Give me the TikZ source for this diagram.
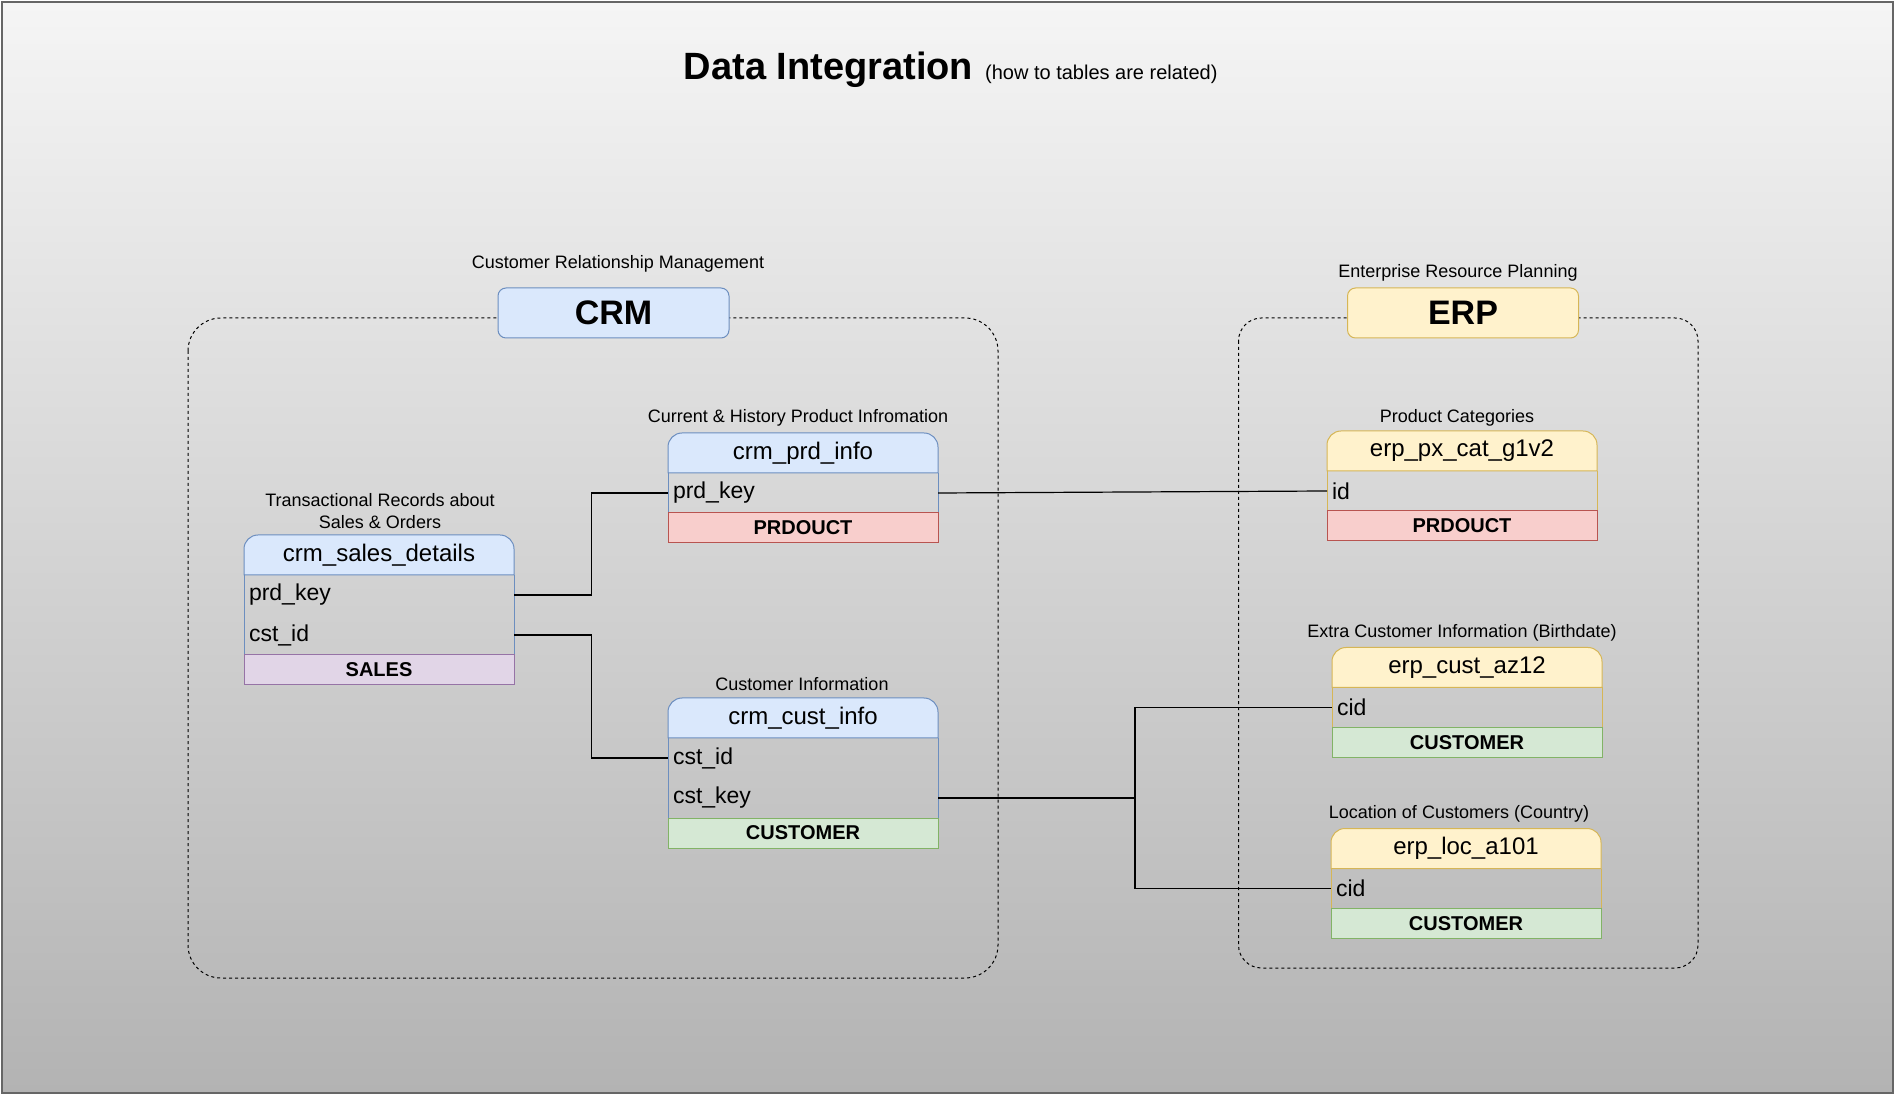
\documentclass[tikz,border=0pt]{standalone}
\usepackage{fontspec}
\setmainfont{Liberation Sans}
\usetikzlibrary{backgrounds}

\definecolor{crmfill}{HTML}{DAE8FC}
\definecolor{crmdraw}{HTML}{6C8EBF}
\definecolor{erpfill}{HTML}{FFF2CC}
\definecolor{erpdraw}{HTML}{D6B656}
\definecolor{redfill}{HTML}{F8CECC}
\definecolor{reddraw}{HTML}{B85450}
\definecolor{grnfill}{HTML}{D5E8D4}
\definecolor{grndraw}{HTML}{82B366}
\definecolor{vltfill}{HTML}{E1D5E7}
\definecolor{vltdraw}{HTML}{9673A6}
\definecolor{bgtop}{HTML}{F5F5F5}
\definecolor{bgbot}{HTML}{B3B3B3}
\definecolor{bordergray}{HTML}{666666}

\tikzset{
  lbl/.style={font=\fontsize{9}{10.85}\selectfont, align=center, inner sep=0pt},
  sysbox/.style={rounded corners=4pt, line width=0.5pt, minimum width=115.5pt, minimum height=25pt, inner sep=0pt, font=\fontsize{17}{20}\selectfont\bfseries},
  crmbox/.style={sysbox, fill=crmfill, draw=crmdraw},
  erpbox/.style={sysbox, fill=erpfill, draw=erpdraw},
  grp/.style={draw=black, line width=0.5pt, dash pattern=on 1.5pt off 1.5pt},
  tblhd/.style={minimum width=135pt, minimum height=20pt, inner sep=0pt, outer sep=0pt, font=\fontsize{12}{14}\selectfont},
  fld/.style={anchor=north, text width=130pt, inner xsep=2.5pt, inner ysep=0pt, outer sep=0pt, minimum height=20pt, align=left, font=\fontsize{11.5}{13}\selectfont},
  foot/.style={anchor=north, minimum width=135pt, minimum height=15pt, inner sep=0pt, outer sep=0pt, line width=0.5pt, font=\fontsize{10}{12}\selectfont\bfseries},
  redfoot/.style={foot, fill=redfill, draw=reddraw},
  grnfoot/.style={foot, fill=grnfill, draw=grndraw},
  vltfoot/.style={foot, fill=vltfill, draw=vltdraw},
  crmtop/.style={fill=crmfill, draw=crmdraw, line width=0.5pt},
  erptop/.style={fill=erpfill, draw=erpdraw, line width=0.5pt},
  link/.style={draw=black, line width=0.6pt}
}

\begin{document}
\begin{tikzpicture}[x=0.5pt,y=-0.5pt]
\useasboundingbox (0,0) rectangle (1895,1095);

\node[anchor=base west, inner sep=0pt] (title) at (683.5,80) {\fontsize{19}{23}\selectfont\bfseries Data Integration\hspace{6pt}\fontsize{10}{12}\selectfont\mdseries (how to tables are related)};

% source systems
\draw[grp, rounded corners=16.5pt] (188,318) rectangle (998,978);
\draw[grp, rounded corners=11.5pt] (1238.5,318) rectangle (1698,968);
\node[lbl] (crm-l) at (618,264) {Customer Relationship Management};
\node[crmbox] (crm) at (613.5,313) {CRM};
\node[lbl] (erp-l) at (1458,273) {Enterprise Resource Planning};
\node[erpbox] (erp) at (1463,313) {ERP};

% crm tables
\node[lbl] (sd-l) at (380,511) {Transactional Records about\\Sales \& Orders};
\node[tblhd] (sd-h) at (379,555) {crm\_sales\_details};
\node[fld] (sd-1) at (sd-h.south) {prd\_key};
\node[fld] (sd-2) at (sd-1.south) {cst\_id};
\node[vltfoot] (sd-f) at (sd-2.south) {SALES};

\node[lbl] (pi-l) at (798,418) {Current \& History Product Infromation};
\node[tblhd] (pi-h) at (803,453) {crm\_prd\_info};
\node[fld] (pi-1) at (pi-h.south) {prd\_key};
\node[redfoot] (pi-f) at (pi-1.south) {PRDOUCT};

\node[lbl] (ci-l) at (802,684) {Customer Information};
\node[tblhd] (ci-h) at (803,718) {crm\_cust\_info};
\node[fld] (ci-1) at (ci-h.south) {cst\_id};
\node[fld] (ci-2) at (ci-1.south) {cst\_key};
\node[grnfoot] (ci-f) at (ci-2.south) {CUSTOMER};

% erp tables
\node[lbl] (pc-l) at (1457,418) {Product Categories};
\node[tblhd] (pc-h) at (1462,451) {erp\_px\_cat\_g1v2};
\node[fld] (pc-1) at (pc-h.south) {id};
\node[redfoot] (pc-f) at (pc-1.south) {PRDOUCT};

\node[lbl] (ca-l) at (1462,633) {Extra Customer Information (Birthdate)};
\node[tblhd] (ca-h) at (1467,667.5) {erp\_cust\_az12};
\node[fld] (ca-1) at (ca-h.south) {cid};
\node[grnfoot] (ca-f) at (ca-1.south) {CUSTOMER};

\node[lbl] (la-l) at (1459,814) {Location of Customers (Country)};
\node[tblhd] (la-h) at (1466,848.5) {erp\_loc\_a101};
\node[fld] (la-1) at (la-h.south) {cid};
\node[grnfoot] (la-f) at (la-1.south) {CUSTOMER};

% keys
\draw[link] (sd-1.east) -- ++(77.5,0) |- (pi-1.west);
\draw[link] (sd-2.east) -- ++(77.5,0) |- (ci-1.west);
\draw[link] (pi-1.east) -- (pc-1.west);
\draw[link] (ci-2.east) -- ++(197,0) |- (ca-1.west);
\draw[link] (ci-2.east) -- ++(197,0) |- (la-1.west);

\begin{scope}[on background layer]
\shadedraw[top color=bgtop, bottom color=bgbot, draw=bordergray, line width=1pt] (2,2) rectangle (1893,1093);
\foreach \t/\s in {sd/crmtop, pi/crmtop, ci/crmtop, pc/erptop, ca/erptop, la/erptop}{
  \draw[\s] (\t-h.south west) -- ([yshift=-7pt]\t-h.north west) arc[start angle=180, end angle=90, radius=7pt]
    -- ([xshift=-7pt]\t-h.north east) arc[start angle=90, end angle=0, radius=7pt] -- (\t-h.south east) -- cycle;
  \draw[\s, fill=none] (\t-h.south west) -- (\t-f.north west) (\t-h.south east) -- (\t-f.north east);
}
\end{scope}
\end{tikzpicture}
\end{document}
